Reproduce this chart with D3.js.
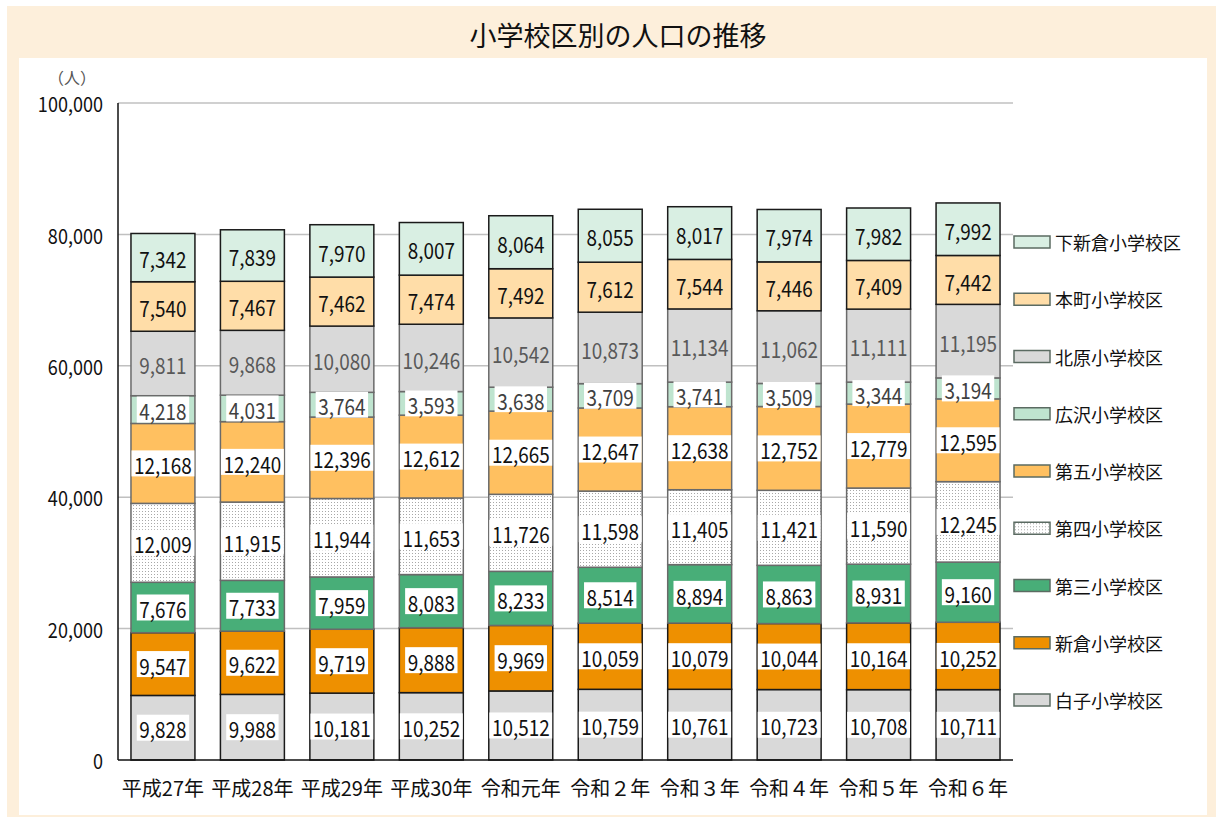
<!DOCTYPE html>
<html>
<head>
<meta charset="utf-8">
<script src="https://cdn.jsdelivr.net/npm/d3@7"></script>
<style>
  body { margin: 0; background: #fff; }
  svg { display: block; }
  text { font-family: "Noto Sans CJK JP", "Noto Sans", sans-serif; }
</style>
</head>
<body>
<script>
// categories (years)
var years = ["平成27年", "平成28年", "平成29年", "平成30年", "令和元年", "令和２年", "令和３年", "令和４年", "令和５年", "令和６年"];

// series, bottom to top
var shirako    = [9828, 9988, 10181, 10252, 10512, 10759, 10761, 10723, 10708, 10711];
var niikura    = [9547, 9622, 9719, 9888, 9969, 10059, 10079, 10044, 10164, 10252];
var daisan     = [7676, 7733, 7959, 8083, 8233, 8514, 8894, 8863, 8931, 9160];
var daiyon     = [12009, 11915, 11944, 11653, 11726, 11598, 11405, 11421, 11590, 12245];
var daigo      = [12168, 12240, 12396, 12612, 12665, 12647, 12638, 12752, 12779, 12595];
var hirosawa   = [4218, 4031, 3764, 3593, 3638, 3709, 3741, 3509, 3344, 3194];
var kitahara   = [9811, 9868, 10080, 10246, 10542, 10873, 11134, 11062, 11111, 11195];
var honcho     = [7540, 7467, 7462, 7474, 7492, 7612, 7544, 7446, 7409, 7442];
var shimoniikura = [7342, 7839, 7970, 8007, 8064, 8055, 8017, 7974, 7982, 7992];

var yTicks = [0, 20000, 40000, 60000, 80000, 100000];

var series = [
  {name: "白子小学校区",   values: shirako,      fill: "#d9d9d9", stroke: "#1a1a1a", box: true,  color: "#111"},
  {name: "新倉小学校区",   values: niikura,      fill: "#ee9000", stroke: "#1a1a1a", box: true,  color: "#111"},
  {name: "第三小学校区",   values: daisan,       fill: "#48ae78", stroke: "#6a6a6a", box: true,  color: "#111"},
  {name: "第四小学校区",   values: daiyon,       fill: "url(#dots)", stroke: "#6a6a6a", box: true, color: "#111"},
  {name: "第五小学校区",   values: daigo,        fill: "#ffc060", stroke: "#6a6a6a", box: true,  color: "#111"},
  {name: "広沢小学校区",   values: hirosawa,     fill: "#bfe4cf", stroke: "#6a6a6a", box: true,  color: "#404040"},
  {name: "北原小学校区",   values: kitahara,     fill: "#d9d9d9", stroke: "#6a6a6a", box: false, color: "#595959"},
  {name: "本町小学校区",   values: honcho,       fill: "#ffdda8", stroke: "#1a1a1a", box: false, color: "#111"},
  {name: "下新倉小学校区", values: shimoniikura, fill: "#d9efe3", stroke: "#1a1a1a", box: false, color: "#111"}
];

var W = 1216, H = 817;
var svg = d3.select("body").append("svg").attr("width", W).attr("height", H);

var defs = svg.append("defs");
var pat = defs.append("pattern").attr("id", "dots").attr("patternUnits", "userSpaceOnUse")
  .attr("width", 3).attr("height", 3);
pat.append("rect").attr("width", 3).attr("height", 3).attr("fill", "#fff");
pat.append("rect").attr("x", 1).attr("y", 1).attr("width", 1).attr("height", 1).attr("fill", "#a8a8a8");

// frame
svg.append("rect").attr("x", 7).attr("y", 6).attr("width", W - 7).attr("height", H - 6).attr("fill", "#fdefdb");
svg.append("rect").attr("x", 19).attr("y", 58).attr("width", 1188).attr("height", 757).attr("fill", "#fff");

svg.append("text").attr("x", 618).attr("y", 34).attr("text-anchor", "middle")
  .attr("dominant-baseline", "central").attr("font-size", 27).attr("fill", "#111")
  .text("小学校区別の人口の推移");

var x = d3.scaleBand().domain(years).range([118, 1013]).paddingInner(0.285).paddingOuter(0.145);
var y = d3.scaleLinear().domain([0, 100000]).range([760, 103]);

// gridlines
svg.append("g").selectAll("line").data(yTicks.slice(1)).enter().append("line")
  .attr("x1", 118).attr("x2", 1013)
  .attr("y1", function(d){ return y(d); }).attr("y2", function(d){ return y(d); })
  .attr("stroke", "#c0c0c0").attr("stroke-width", 1.5);

// y axis labels
svg.append("g").selectAll("text").data(yTicks).enter().append("text")
  .attr("transform", function(d){ return "translate(103," + y(d) + ") scale(0.86,1)"; })
  .attr("text-anchor", "end").attr("dominant-baseline", "central")
  .attr("font-size", 21).attr("fill", "#111")
  .text(function(d){ return d3.format(",")(d); });

svg.append("text").attr("x", 72).attr("y", 77).attr("text-anchor", "middle")
  .attr("dominant-baseline", "central").attr("font-size", 16).attr("fill", "#555")
  .text("（人）");

// stack
var rows = years.map(function(yr, i){
  var r = {year: yr};
  series.forEach(function(s){ r[s.name] = s.values[i]; });
  return r;
});
var stack = d3.stack().keys(series.map(function(s){ return s.name; }))(rows);

var layers = svg.append("g").selectAll("g").data(stack).enter().append("g");
layers.selectAll("rect").data(function(d){ return d; }).enter().append("rect")
  .attr("x", function(d){ return x(d.data.year); })
  .attr("width", x.bandwidth())
  .attr("y", function(d){ return y(d[1]); })
  .attr("height", function(d){ return y(d[0]) - y(d[1]); })
  .attr("fill", function(d, i, n){ return series[d3.select(n[i].parentNode).datum().index].fill; })
  .attr("stroke", function(d, i, n){ return series[d3.select(n[i].parentNode).datum().index].stroke; })
  .attr("stroke-width", 1.5);

// segment labels
stack.forEach(function(layer, k){
  var s = series[k];
  layer.forEach(function(d){
    var cx = x(d.data.year) + x.bandwidth() / 2;
    var cy = (y(d[0]) + y(d[1])) / 2;
    var g = svg.append("g").attr("transform", "translate(" + cx + "," + cy + ") scale(0.86,1)");
    var box = g.append("rect");
    var t = g.append("text").attr("text-anchor", "middle").attr("dominant-baseline", "central")
      .attr("y", 1).attr("font-size", 22).attr("fill", s.color)
      .text(d3.format(",")(d[1] - d[0]));
    if (s.box) {
      var w = t.node().getComputedTextLength() + 6;
      box.attr("x", -w / 2).attr("y", -13).attr("width", w).attr("height", 26).attr("fill", "#fff");
    } else {
      box.remove();
    }
  });
});

// totals
var top = stack[stack.length - 1];
svg.append("g").selectAll("text").data(top).enter().append("text")
  .attr("transform", function(d){ return "translate(" + (x(d.data.year) + x.bandwidth() / 2) + "," + (y(d[1]) - 21) + ") scale(0.86,1)"; })
  .attr("text-anchor", "middle").attr("dominant-baseline", "central")
  .attr("font-size", 21).attr("fill", "#111")
  .text(function(d){ return d3.format(",")(d[1]); });

// axis lines
svg.append("line").attr("x1", 118).attr("x2", 118).attr("y1", 103).attr("y2", 760)
  .attr("stroke", "#111").attr("stroke-width", 1.5);
svg.append("line").attr("x1", 118).attr("x2", 1013).attr("y1", 760).attr("y2", 760)
  .attr("stroke", "#111").attr("stroke-width", 1.5);

// category labels
svg.append("g").selectAll("text").data(years).enter().append("text")
  .attr("x", function(d){ return x(d) + x.bandwidth() / 2; }).attr("y", 787)
  .attr("text-anchor", "middle").attr("dominant-baseline", "central")
  .attr("font-size", 20).attr("fill", "#111")
  .text(function(d){ return d; });

// legend, top to bottom
var legendItems = series.slice().reverse();
var lg = svg.append("g").selectAll("g").data(legendItems).enter().append("g")
  .attr("transform", function(d, i){ return "translate(1014," + (242 + i * 57.25) + ")"; });
lg.append("rect").attr("x", 0).attr("y", -6).attr("width", 36).attr("height", 12)
  .attr("fill", function(d){ return d.fill; }).attr("stroke", "#5b6b62").attr("stroke-width", 1.5);
lg.append("text").attr("x", 41).attr("dominant-baseline", "central")
  .attr("font-size", 18).attr("fill", "#111")
  .text(function(d){ return d.name; });
</script>
</body>
</html>
